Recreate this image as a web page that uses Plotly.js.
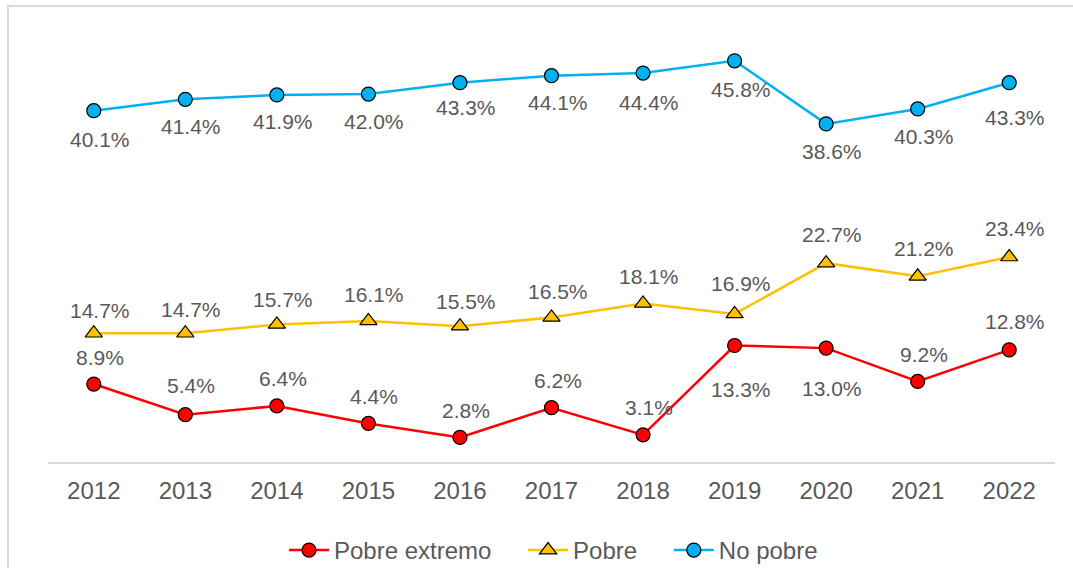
<!DOCTYPE html>
<html>
<head>
<meta charset="utf-8">
<script src="https://cdn.plot.ly/plotly-3.0.1.min.js"></script>
<style>
  html, body { margin: 0; padding: 0; background: #fff; overflow: hidden; }
  #wrap { position: relative; width: 1073px; height: 568px; overflow: hidden; }
  #chart { position: absolute; left: 0; top: 0; width: 1073px; height: 568px; }
  #frame { position: absolute; left: 7px; top: 5px; width: 1100px; height: 620px;
           border: 2px solid #d9d9d9; pointer-events: none; box-sizing: border-box; }
</style>
</head>
<body>
<div id="wrap">
  <div id="chart"></div>
  <div id="frame"></div>
</div>
<script>
// ---- data ----
const years = ['2012','2013','2014','2015','2016','2017','2018','2019','2020','2021','2022'];
const pobreExtremo = [8.9, 5.4, 6.4, 4.4, 2.8, 6.2, 3.1, 13.3, 13.0, 9.2, 12.8];
const pobre        = [14.7, 14.7, 15.7, 16.1, 15.5, 16.5, 18.1, 16.9, 22.7, 21.2, 23.4];
const noPobre      = [40.1, 41.4, 41.9, 42.0, 43.3, 44.1, 44.4, 45.8, 38.6, 40.3, 43.3];
const seriesNames  = ['Pobre extremo', 'Pobre', 'No pobre'];

// ---- label placement (style) ----
const shiftExtremo = [27, 29, 27, 27, 27, 27, 27, -44, -40, 27, 28];
const shiftPobre   = [23, 24, 25, 26, 25, 26, 27, 30, 29, 28, 29];
const shiftNoPobre = [-29, -27, -27, -27, -25, -27, -29, -29, -28, -28, -35];

const textColor = '#595959';
const font = 'Arial, "Liberation Sans", sans-serif';
const pad = '\u00a0\u00a0\u00a0\u00a0';

function trace(name, y, color, symbol, size) {
  return {
    type: 'scatter', mode: 'lines+markers', name: name,
    x: years, y: y,
    line: { color: color, width: 2.5 },
    marker: { symbol: symbol, size: size, color: color, line: { color: '#000', width: 1.2 } },
    hoverinfo: 'skip'
  };
}

const data = [
  trace(seriesNames[0] + pad, pobreExtremo, '#FF0000', 'circle', 14),
  trace(seriesNames[1] + pad, pobre, '#FFC000', 'triangle-up', 15),
  trace(seriesNames[2], noPobre, '#00B0F0', 'circle', 14)
];

const annotations = [];
function addLabels(vals, shifts) {
  vals.forEach((v, i) => {
    annotations.push({
      x: i, y: v, xref: 'x', yref: 'y',
      text: v.toFixed(1) + '%', showarrow: false,
      xshift: 6, yshift: shifts[i],
      font: { family: font, size: 21, color: textColor }
    });
  });
}
addLabels(pobreExtremo, shiftExtremo);
addLabels(pobre, shiftPobre);
addLabels(noPobre, shiftNoPobre);

const layout = {
  width: 1073, height: 568,
  margin: { l: 48, r: 18, t: 24, b: 106, autoexpand: false },
  paper_bgcolor: '#fff', plot_bgcolor: '#fff',
  showlegend: true,
  legend: {
    orientation: 'h', x: 0.502, xanchor: 'center', y: -0.202, yanchor: 'middle',
    font: { family: font, size: 24, color: textColor },
    itemwidth: 40
  },
  xaxis: {
    type: 'category',
    range: [-0.5, years.length - 0.5], autorange: false,
    showline: true, linecolor: '#d9d9d9', linewidth: 2,
    showgrid: false, zeroline: false, ticks: '',
    tickfont: { family: font, size: 24, color: textColor },
    ticklabelstandoff: 6,
    fixedrange: true
  },
  yaxis: {
    range: [0, 50], autorange: false, visible: false, showgrid: false, zeroline: false, fixedrange: true
  },
  annotations: annotations
};

Plotly.newPlot('chart', data, layout, { displayModeBar: false, staticPlot: true });
</script>
</body>
</html>
